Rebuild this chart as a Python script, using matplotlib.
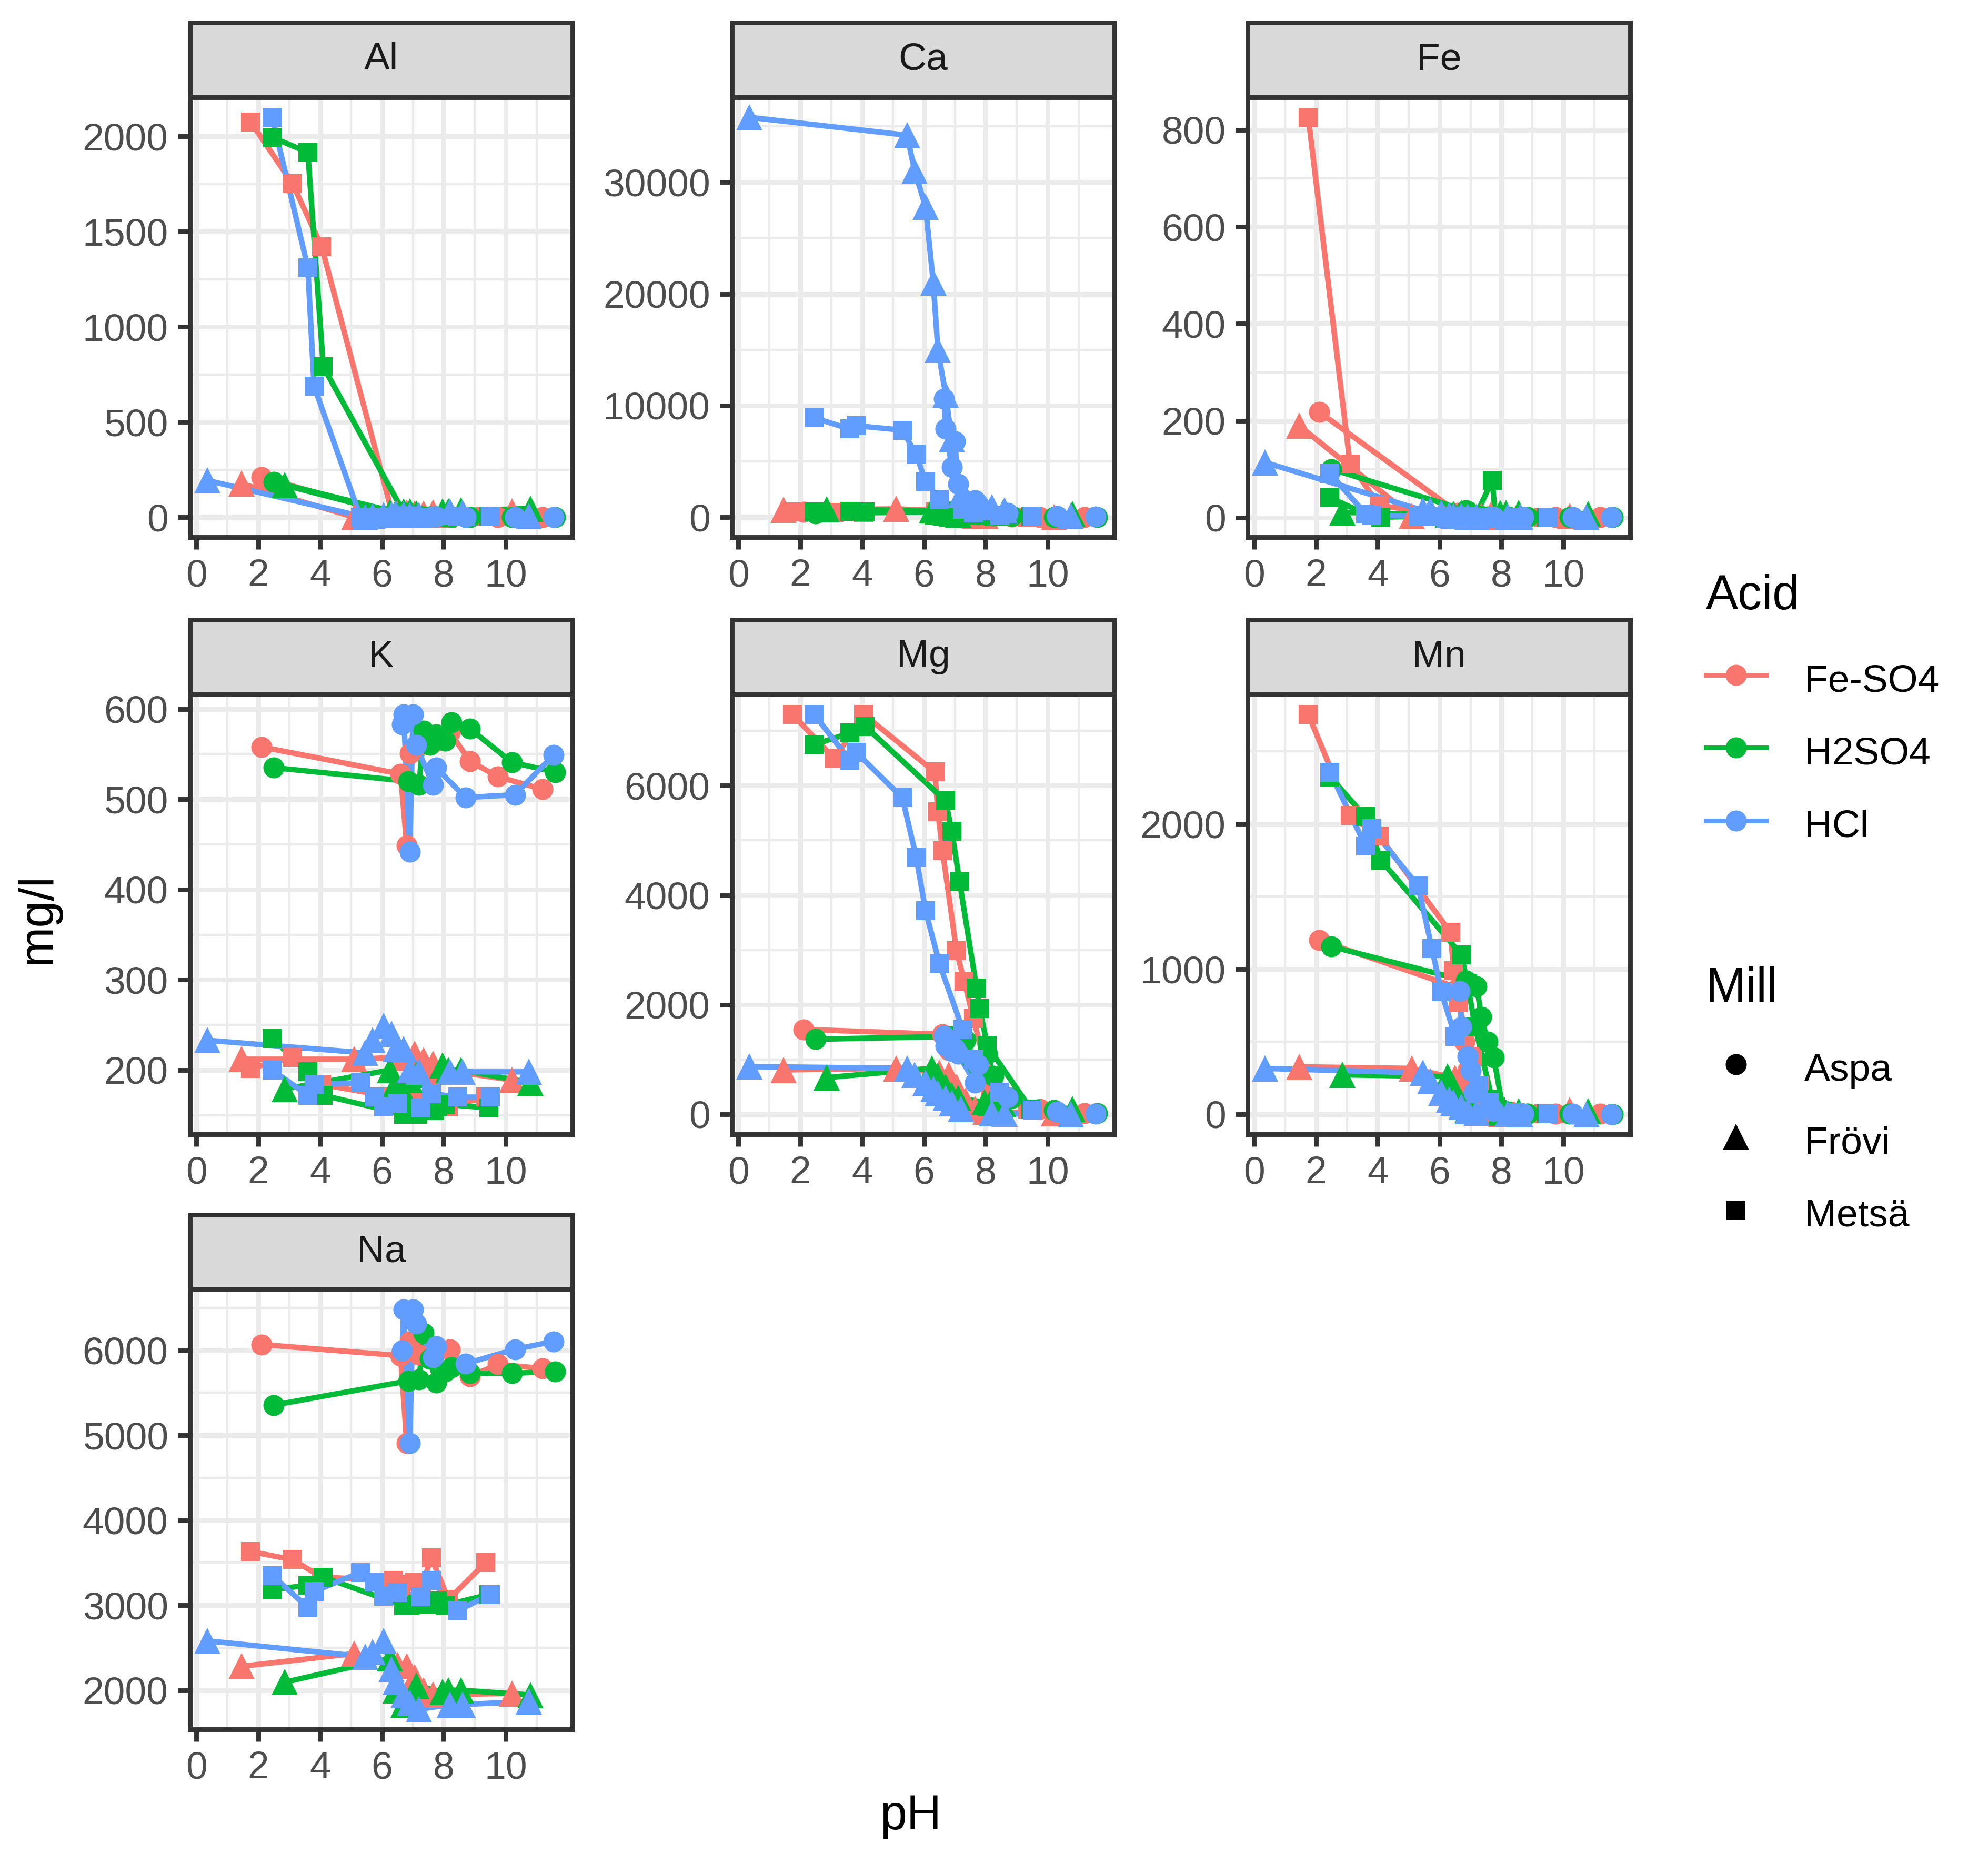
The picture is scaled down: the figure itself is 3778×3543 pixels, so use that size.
import matplotlib
matplotlib.use("Agg")
import matplotlib.pyplot as plt
from matplotlib.lines import Line2D
import numpy as np

plt.rcParams["font.family"] = ["Liberation Sans", "DejaVu Sans"]

acids = ["Fe-SO4", "H2SO4", "HCl"]
mills = ["Aspa", "Frövi", "Metsä"]
elements = ["Al", "Ca", "Fe", "K", "Mg", "Mn", "Na"]

# pH of each titration step, per acid / mill
ph = {
    ("Fe-SO4", "Aspa"): [2.1, 6.6, 6.8, 6.9, 7.2, 7.8, 8.2, 8.85, 9.75, 11.2],
    ("Fe-SO4", "Frövi"): [1.45, 5.1, 6.5, 6.8, 7.05, 7.35, 7.65, 8.0, 10.2],
    ("Fe-SO4", "Metsä"): [1.75, 3.1, 4.05, 6.35, 6.45, 6.6, 7.05, 7.3, 7.6, 8.15, 9.35],
    ("H2SO4", "Aspa"): [2.5, 6.85, 7.2, 7.35, 7.55, 7.75, 8.05, 8.25, 8.85, 10.2, 11.6],
    ("H2SO4", "Frövi"): [2.85, 6.25, 6.45, 6.7, 6.9, 7.1, 7.95, 8.15, 8.55, 10.8],
    ("H2SO4", "Metsä"): [2.45, 3.6, 4.1, 6.7, 6.9, 7.15, 7.7, 7.8, 8.05, 9.45],
    ("HCl", "Aspa"): [6.65, 6.7, 6.9, 7.0, 7.1, 7.65, 7.75, 8.7, 10.3, 11.55],
    ("HCl", "Frövi"): [0.35, 5.45, 5.7, 6.05, 6.3, 6.45, 6.7, 6.9, 7.2, 8.2, 8.6, 10.75],
    ("HCl", "Metsä"): [2.45, 3.6, 3.8, 5.3, 5.75, 6.05, 6.5, 7.25, 7.6, 8.45, 9.5],
}

# concentrations (mg/l), same order as the pH lists
al = {
    ("Fe-SO4", "Aspa"): [210, 5, 3, 2, 1, 1, 1, 1, 1, 1],
    ("Fe-SO4", "Frövi"): [176, 0, 20, 25, 20, 20, 25, 10, 30],
    ("Fe-SO4", "Metsä"): [2076, 1753, 1420, 8, 5, 5, 3, 2, 2, 2, 2],
    ("H2SO4", "Aspa"): [185, 10, 5, 3, 2, 2, 2, 1, 1, 1, 1],
    ("H2SO4", "Frövi"): [168, 25, 25, 30, 30, 20, 30, 30, 35, 45],
    ("H2SO4", "Metsä"): [1995, 1916, 790, 25, 10, 5, 3, 2, 2, 2],
    ("HCl", "Aspa"): [5, 5, 3, 3, 2, 2, 2, 1, 1, 1],
    ("HCl", "Frövi"): [193, 0, 5, 10, 15, 20, 15, 10, 10, 30, 25, 5],
    ("HCl", "Metsä"): [2100, 1311, 689, 0, 0, 0, 0, 0, 0, 5, 2],
}
ca = {
    ("Fe-SO4", "Aspa"): [500, 600, 500, 400, 300, 200, 100, 50, 20, 10],
    ("Fe-SO4", "Frövi"): [650, 750, 600, 400, 300, 200, 150, 100, 30],
    ("Fe-SO4", "Metsä"): [500, 450, 450, 500, 450, 400, 300, 250, 200, 100, 20],
    ("H2SO4", "Aspa"): [350, 500, 450, 400, 300, 250, 200, 150, 100, 30, 10],
    ("H2SO4", "Frövi"): [700, 600, 500, 400, 300, 250, 800, 600, 400, 300],
    ("H2SO4", "Metsä"): [500, 550, 500, 450, 400, 350, 300, 250, 200, 50],
    ("HCl", "Aspa"): [10600, 7900, 4500, 6800, 3000, 1500, 1200, 400, 100, 50],
    ("HCl", "Frövi"): [35800, 34200, 31000, 27800, 21000, 15000, 11000, 7000, 2000, 900, 600, 100],
    ("HCl", "Metsä"): [8900, 7900, 8200, 7800, 5600, 3200, 1600, 700, 400, 200, 50],
}
fe = {
    ("Fe-SO4", "Aspa"): [218, 10, 5, 3, 2, 2, 2, 1, 1, 1],
    ("Fe-SO4", "Frövi"): [190, 3, 5, 10, 5, 3, 5, 2, 3],
    ("Fe-SO4", "Metsä"): [826, 111, 25, 5, 3, 2, 2, 1, 1, 1, 1],
    ("H2SO4", "Aspa"): [100, 15, 5, 3, 2, 2, 1, 1, 1, 1, 1],
    ("H2SO4", "Frövi"): [11, 5, 8, 10, 8, 5, 10, 10, 10, 8],
    ("H2SO4", "Metsä"): [41, 8, 1, 5, 3, 2, 77, 3, 2, 1],
    ("HCl", "Aspa"): [2, 2, 1, 1, 1, 1, 1, 1, 1, 1],
    ("HCl", "Frövi"): [114, 15, 15, 10, 5, 3, 3, 2, 2, 2, 2, 1],
    ("HCl", "Metsä"): [91, 8, 5, 3, 2, 2, 1, 1, 1, 1, 1],
}
k = {
    ("Fe-SO4", "Aspa"): [558, 528, 449, 551, 560, 565, 574, 542, 525, 511],
    ("Fe-SO4", "Frövi"): [212, 212, 214, 216, 218, 211, 207, 200, 189],
    ("Fe-SO4", "Metsä"): [202, 214, 184, 170, 166, 163, 168, 165, 184, 159, 170],
    ("H2SO4", "Aspa"): [535, 520, 516, 576, 560, 572, 565, 585, 578, 541, 530],
    ("H2SO4", "Frövi"): [179, 200, 185, 175, 189, 195, 205, 200, 200, 186],
    ("H2SO4", "Metsä"): [235, 198, 172, 151, 155, 151, 155, 160, 162, 158],
    ("HCl", "Aspa"): [583, 594, 442, 594, 560, 516, 535, 502, 505, 549],
    ("HCl", "Frövi"): [233, 219, 233, 249, 240, 223, 223, 200, 198, 198, 198, 198],
    ("HCl", "Metsä"): [200, 172, 184, 186, 170, 159, 163, 158, 174, 170, 170],
}
mg = {
    ("Fe-SO4", "Aspa"): [1550, 1460, 1170, 1300, 1150, 900, 500, 300, 100, 20],
    ("Fe-SO4", "Frövi"): [810, 840, 760, 720, 500, 250, 100, 50, 20],
    ("Fe-SO4", "Metsä"): [7300, 6490, 7300, 6250, 5520, 4810, 2990, 2430, 1750, 500, 100],
    ("H2SO4", "Aspa"): [1370, 1420, 1440, 1350, 1000, 870, 1100, 700, 300, 80, 20],
    ("H2SO4", "Frövi"): [670, 840, 700, 500, 350, 300, 220, 200, 190, 100],
    ("H2SO4", "Metsä"): [6750, 6960, 7080, 5720, 5170, 4250, 2310, 1930, 1250, 100],
    ("HCl", "Aspa"): [1430, 1250, 1150, 1200, 1100, 580, 900, 310, 50, 10],
    ("HCl", "Frövi"): [870, 840, 720, 580, 460, 380, 300, 200, 100, 20, 10, 0],
    ("HCl", "Metsä"): [7300, 6460, 6610, 5780, 4690, 3720, 2750, 1550, 1000, 400, 80],
}
mn = {
    ("Fe-SO4", "Aspa"): [1200, 870, 500, 300, 150, 30, 10, 5, 3, 2],
    ("Fe-SO4", "Frövi"): [327, 316, 250, 200, 100, 40, 10, 5, 29],
    ("Fe-SO4", "Metsä"): [2755, 2060, 1916, 1254, 990, 770, 400, 200, 100, 20, 5],
    ("H2SO4", "Aspa"): [1155, 920, 880, 670, 500, 390, 30, 10, 5, 2, 1],
    ("H2SO4", "Frövi"): [272, 260, 180, 80, 30, 20, 10, 10, 20, 20],
    ("H2SO4", "Metsä"): [2325, 2050, 1750, 1100, 900, 600, 100, 50, 20, 5],
    ("HCl", "Aspa"): [850, 600, 400, 300, 150, 50, 20, 5, 2, 1],
    ("HCl", "Frövi"): [316, 285, 230, 150, 100, 80, 50, 20, 10, 2, 1, 0],
    ("HCl", "Metsä"): [2357, 1850, 1970, 1574, 1143, 845, 536, 200, 80, 10, 5],
}
na = {
    ("Fe-SO4", "Aspa"): [6068, 5936, 4905, 6100, 5950, 6000, 6011, 5693, 5834, 5786],
    ("Fe-SO4", "Frövi"): [2281, 2431, 2300, 2281, 2150, 2000, 1950, 1950, 1962],
    ("Fe-SO4", "Metsä"): [3631, 3537, 3330, 3290, 3250, 3200, 3275, 3250, 3556, 3068, 3500],
    ("H2SO4", "Aspa"): [5355, 5640, 5655, 6200, 5900, 5617, 5748, 5800, 5730, 5730, 5748],
    ("H2SO4", "Frövi"): [2094, 2375, 2000, 1831, 1900, 2056, 1981, 2000, 2000, 1944],
    ("H2SO4", "Metsä"): [3181, 3237, 3330, 2993, 3000, 3012, 3012, 3050, 3000, 3125],
    ("HCl", "Aspa"): [6000, 6480, 4905, 6480, 6311, 5917, 6049, 5842, 6011, 6105],
    ("HCl", "Frövi"): [2581, 2394, 2450, 2581, 2244, 2094, 1944, 1850, 1775, 1831, 1831, 1869],
    ("HCl", "Metsä"): [3350, 2975, 3162, 3387, 3275, 3106, 3150, 3100, 3293, 2937, 3125],
}
conc = {"Al": al, "Ca": ca, "Fe": fe, "K": k, "Mg": mg, "Mn": mn, "Na": na}

y_breaks = {
    "Al": [0, 500, 1000, 1500, 2000],
    "Ca": [0, 10000, 20000, 30000],
    "Fe": [0, 200, 400, 600, 800],
    "K": [200, 300, 400, 500, 600],
    "Mg": [0, 2000, 4000, 6000],
    "Mn": [0, 1000, 2000],
    "Na": [2000, 3000, 4000, 5000, 6000],
}
x_breaks = [0, 2, 4, 6, 8, 10]

colors = {"Fe-SO4": "#F8766D", "H2SO4": "#00BA38", "HCl": "#619CFF"}
markers = {"Aspa": "o", "Frövi": "^", "Metsä": "s"}
msize = {"Aspa": 4.8, "Frövi": 6.0, "Metsä": 4.4}

LW = 1.07
LINE_LW = 1.25
GRID = "#EBEBEB"
DARK = "#333333"

W, H = 3779, 3543
fig = plt.figure(figsize=(W / 600, H / 600), dpi=600)

col_left = [361, 1391, 2371]
row_top = [43, 1178, 2309]
panel_w, strip_h, panel_h = 727, 142, 836


def box(x, y, w, h):
    return [x / W, 1 - (y + h) / H, w / W, h / H]


def minor_of(breaks, lo, hi):
    step = breaks[1] - breaks[0]
    mids = [b + step / 2 for b in [breaks[0] - step] + breaks]
    return [m for m in mids if lo <= m <= hi]


all_ph = np.concatenate([np.array(v) for v in ph.values()])
xpad = 0.05 * (all_ph.max() - all_ph.min())
xlim = (all_ph.min() - xpad, all_ph.max() + xpad)

for i, el in enumerate(elements):
    r, c = divmod(i, 3)
    x0, y0 = col_left[c], row_top[r]

    strip = fig.add_axes(box(x0, y0, panel_w, strip_h))
    strip.set_facecolor("#D9D9D9")
    strip.set_xticks([])
    strip.set_yticks([])
    for s in strip.spines.values():
        s.set_color(DARK)
        s.set_linewidth(LW)
    strip.text(0.5, 0.5, el, ha="center", va="center", fontsize=8.8, color="#1A1A1A",
               transform=strip.transAxes)

    ax = fig.add_axes(box(x0, y0 + strip_h, panel_w, panel_h))
    data = conc[el]
    vals = np.concatenate([np.array(v) for v in data.values()])
    ypad = 0.05 * (vals.max() - vals.min())
    ylim = (vals.min() - ypad, vals.max() + ypad)

    for a in acids:
        for m in mills:
            ax.plot(ph[(a, m)], data[(a, m)], color=colors[a], lw=LINE_LW, zorder=3,
                    solid_capstyle="butt")
    for a in acids:
        for m in mills:
            ax.plot(ph[(a, m)], data[(a, m)], ls="none", marker=markers[m], ms=msize[m],
                    color=colors[a], mew=0, zorder=4)

    ax.set_xlim(xlim)
    ax.set_ylim(ylim)
    ax.set_xticks(x_breaks)
    ax.set_xticks(minor_of(x_breaks, *xlim), minor=True)
    ax.set_yticks(y_breaks[el])
    ax.set_yticks(minor_of(y_breaks[el], *ylim), minor=True)
    ax.grid(which="major", color=GRID, lw=LW)
    ax.grid(which="minor", color=GRID, lw=LW / 2)
    ax.set_axisbelow(True)
    ax.tick_params(which="major", length=2.75, width=LW, color=DARK, labelsize=8.8,
                   labelcolor="#4D4D4D", pad=2.2)
    ax.tick_params(which="minor", length=0)
    for s in ax.spines.values():
        s.set_color(DARK)
        s.set_linewidth(LW)

fig.text(72 / W, 1 - 1745 / H, "mg/l", rotation=90, ha="center", va="center", fontsize=11)
fig.text(1731 / W, 1 - 3453 / H, "pH", ha="center", va="center", fontsize=11)

# legends: titles as text, keys through fig.legend
leg_x = 3242 / W
leg_kw = dict(loc="upper left", frameon=False, fontsize=8.8, handlelength=1.55,
              handletextpad=1.0, handleheight=1.2, labelspacing=0.83, borderpad=0,
              borderaxespad=0)

fig.text(leg_x, 1 - 1158 / H, "Acid", fontsize=11, ha="left", va="baseline")
acid_handles = [Line2D([], [], color=colors[a], lw=LW, marker="o", ms=msize["Aspa"], mew=0)
                for a in acids]
fig.legend(acid_handles, acids, bbox_to_anchor=(leg_x, 1 - 1252 / H), **leg_kw)

fig.text(leg_x, 1 - 1903 / H, "Mill", fontsize=11, ha="left", va="baseline")
mill_handles = [Line2D([], [], color="black", ls="none", marker=markers[m], ms=msize[m], mew=0)
                for m in mills]
fig.legend(mill_handles, mills, bbox_to_anchor=(leg_x, 1 - 1992 / H), **leg_kw)

fig.savefig("out.png", dpi=600, facecolor="white")
